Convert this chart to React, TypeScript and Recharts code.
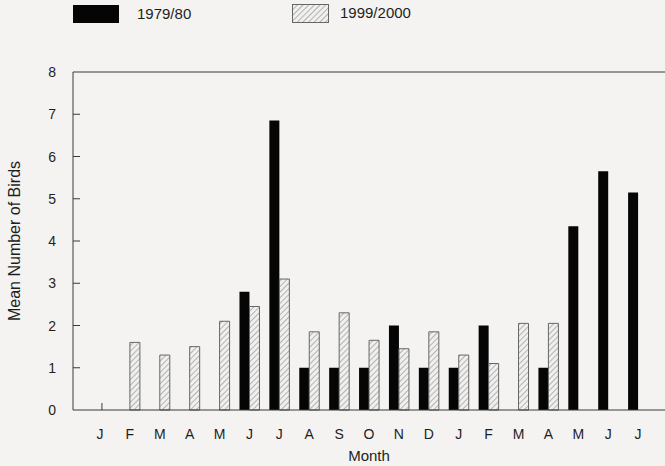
import React from 'react';
import { BarChart, Bar, XAxis, YAxis, ReferenceLine } from 'recharts';

const months = ['J', 'F', 'M', 'A', 'M', 'J', 'J', 'A', 'S', 'O', 'N', 'D', 'J', 'F', 'M', 'A', 'M', 'J', 'J'];
const series1979 = [null, null, null, null, null, 2.8, 6.85, 1.0, 1.0, 1.0, 2.0, 1.0, 1.0, 2.0, null, 1.0, 4.35, 5.65, 5.15];
const series1999 = [null, 1.6, 1.3, 1.5, 2.1, 2.45, 3.1, 1.85, 2.3, 1.65, 1.45, 1.85, 1.3, 1.1, 2.05, 2.05, null, null, null];
const yTicks = [0, 1, 2, 3, 4, 5, 6, 7, 8];
const legendLabels = ['1979/80', '1999/2000'];

const data = months.map((m, i) => ({ month: m, a: series1979[i], b: series1999[i] }));

const FONT = 'Liberation Sans, Arial, sans-serif';
const AXIS = '#3a3a3a';

const YTick = (props: any) => {
  const { x, y, payload } = props;
  return (
    <g>
      {payload.value !== 0 && payload.value !== 8 ? (
        <line x1={x + 17} x2={x + 24} y1={y} y2={y} stroke={AXIS} strokeWidth={1} />
      ) : null}
      <text x={x} y={y} dy={5} textAnchor="end" fontFamily={FONT} fontSize={14} fill="#1e1e1e">
        {payload.value}
      </text>
    </g>
  );
};

const XTick = (props: any) => {
  const { x, y, payload, index } = props;
  return (
    <g>
      {index === 0 ? <line x1={x + 2} x2={x + 2} y1={y - 17} y2={y - 24} stroke={AXIS} strokeWidth={1} /> : null}
      <text x={x} y={y} dy={12} textAnchor="middle" fontFamily={FONT} fontSize={14} fill="#1e1e1e">
        {payload.value}
      </text>
    </g>
  );
};

export default function App() {
  return (
    <div style={{ position: 'absolute', left: 0, top: 0, width: 665, height: 466, background: '#f4f3f1', overflow: 'hidden' }}>
      <div style={{ position: 'absolute', left: 73, top: 5, width: 46, height: 18, background: '#050505' }} />
      <div style={{ position: 'absolute', left: 137, top: 5, fontFamily: FONT, fontSize: 15, color: '#1e1e1e', lineHeight: '18px' }}>
        {legendLabels[0]}
      </div>
      <svg style={{ position: 'absolute', left: 292, top: 4 }} width={37} height={19}>
        <defs>
          <pattern id="hatchL" patternUnits="userSpaceOnUse" width="4" height="4" patternTransform="rotate(45)">
            <rect width="4" height="4" fill="#f0f0ee" />
            <line x1="0" y1="0" x2="0" y2="4" stroke="#8a8a8a" strokeWidth="1.2" />
          </pattern>
        </defs>
        <rect x={0.5} y={0.5} width={36} height={18} fill="url(#hatchL)" stroke="#666" strokeWidth={1} />
      </svg>
      <div style={{ position: 'absolute', left: 340, top: 4, fontFamily: FONT, fontSize: 15, color: '#1e1e1e', lineHeight: '18px' }}>
        {legendLabels[1]}
      </div>
      <BarChart
        width={665}
        height={466}
        data={data}
        margin={{ top: 72, right: 0, bottom: 0, left: 0 }}
        barSize={10}
        barGap={0}
      >
        <defs>
          <pattern id="hatch" patternUnits="userSpaceOnUse" width="4" height="4" patternTransform="rotate(45)">
            <rect width="4" height="4" fill="#f0f0ee" />
            <line x1="0" y1="0" x2="0" y2="4" stroke="#8a8a8a" strokeWidth="1.2" />
          </pattern>
        </defs>
        <XAxis
          dataKey="month"
          height={56}
          padding={{ left: 12, right: 12 }}
          tickLine={false}
          tickSize={0}
          tickMargin={17}
          interval={0}
          axisLine={{ stroke: AXIS, strokeWidth: 1 }}
          tick={<XTick />}
          label={{ value: 'Month', position: 'insideBottom', offset: 5, style: { fontFamily: FONT, fontSize: 15, fill: '#1e1e1e' } }}
        />
        <YAxis
          width={73}
          domain={[0, 8]}
          ticks={yTicks}
          interval={0}
          tickLine={false}
          tickSize={0}
          tickMargin={17}
          axisLine={{ stroke: AXIS, strokeWidth: 1 }}
          tick={<YTick />}
          label={{ value: 'Mean Number of Birds', angle: -90, position: 'center', dx: -22, style: { fontFamily: FONT, fontSize: 16, fill: '#1e1e1e' } }}
        />
        <ReferenceLine y={8} stroke={AXIS} strokeWidth={1} />
        <Bar dataKey="a" name={legendLabels[0]} fill="#050505" isAnimationActive={false} />
        <Bar dataKey="b" name={legendLabels[1]} fill="url(#hatch)" stroke="#666" strokeWidth={1} isAnimationActive={false} />
      </BarChart>
    </div>
  );
}
